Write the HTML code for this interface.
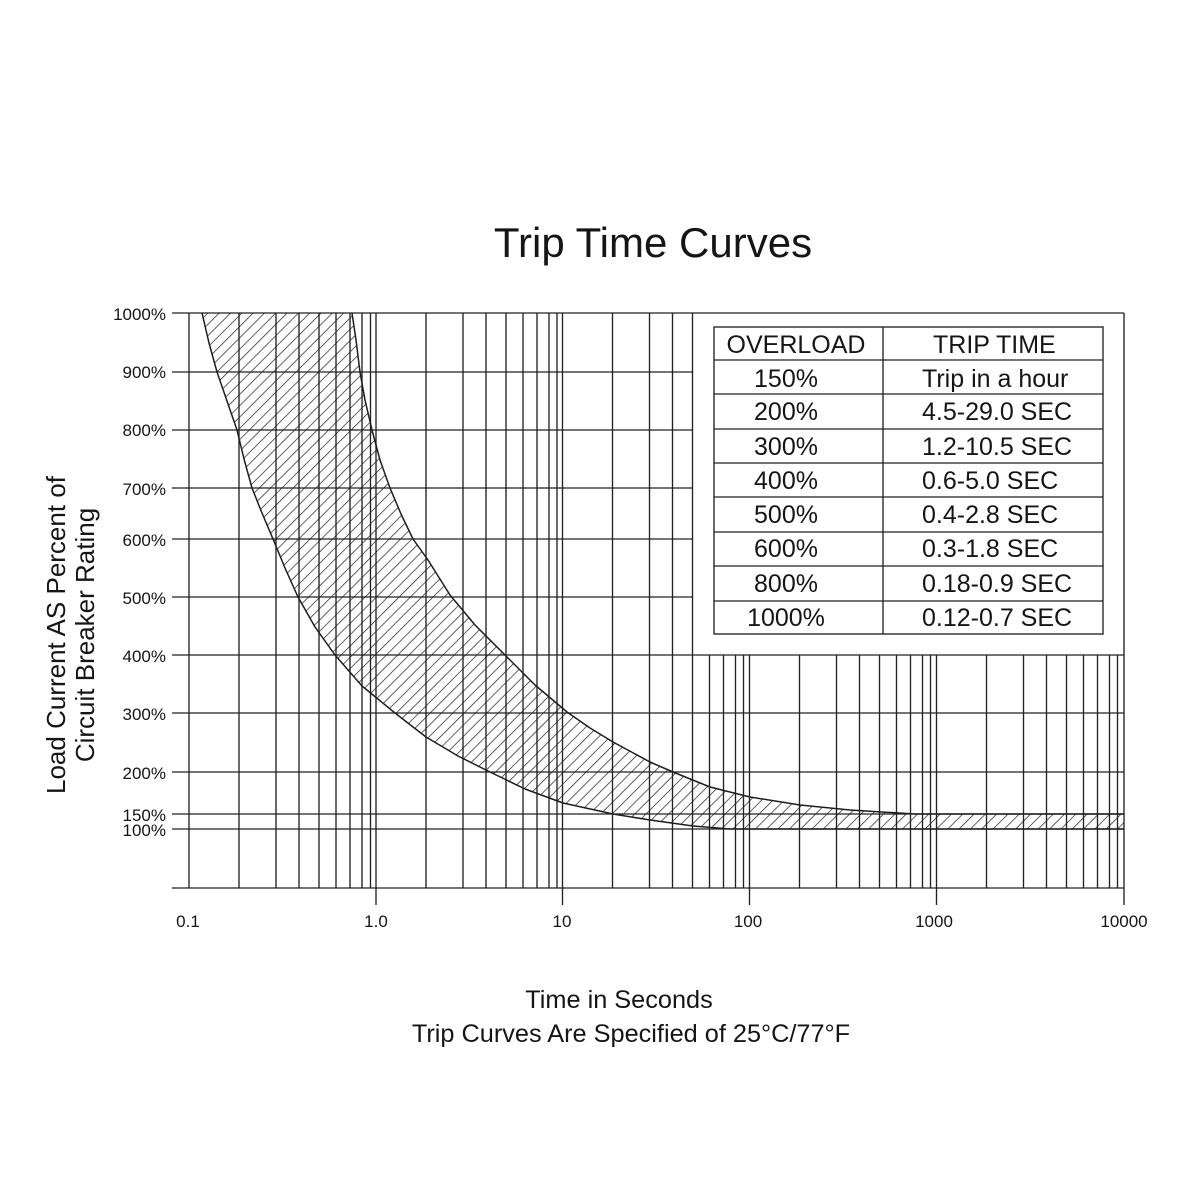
<!DOCTYPE html>
<html>
<head>
<meta charset="utf-8">
<style>
html,body{margin:0;padding:0;background:#fff;}
svg{display:block;}
text{font-family:"Liberation Sans",Arial,sans-serif;fill:#151515;}
</style>
</head>
<body>
<svg width="1200" height="1200" viewBox="0 0 1200 1200" xmlns="http://www.w3.org/2000/svg">
<defs>
  <pattern id="hatch" patternUnits="userSpaceOnUse" width="8" height="8" patternTransform="rotate(45)">
    <line x1="0" y1="0" x2="0" y2="8" stroke="#1e1e1e" stroke-width="1.4"/>
  </pattern>
  <clipPath id="band">
    <path d="M352,313 L356,340 360,372 365,400 372,430 380,460 390,488 401,514 413,539 428,560 450,595 475,625 505,655 535,685 567,712 590,728 613,742 650,762 673,772 710,787 750,797 800,805 850,810 915,814 1124,814 L1124,829 730,829 693,826 650,820 613,814 563,803 525,789 490,772 458,756 426,737 395,713 362,686 335,655 315,627 298,597 285,568 273,539 262,513 252,488 244,459 237,430 227,401 217,372 209,343 202,313 Z"/>
  </clipPath>
</defs>
<rect width="1200" height="1200" fill="#fff"/>

<!-- Title -->
<text x="653" y="257" font-size="42" text-anchor="middle">Trip Time Curves</text>

<!-- grid -->
<g stroke="#222" stroke-width="1.35" fill="none">
  <line x1="172" y1="313" x2="1124" y2="313"/>
  <line x1="172" y1="655" x2="1124" y2="655"/>
  <line x1="172" y1="713" x2="1124" y2="713"/>
  <line x1="172" y1="772" x2="1124" y2="772"/>
  <line x1="172" y1="814" x2="1124" y2="814"/>
  <line x1="172" y1="829" x2="1124" y2="829"/>
  <line x1="172" y1="888" x2="1124" y2="888"/>
  <line x1="172" y1="372" x2="692.5" y2="372"/>
  <line x1="172" y1="430" x2="692.5" y2="430"/>
  <line x1="172" y1="488" x2="692.5" y2="488"/>
  <line x1="172" y1="539" x2="692.5" y2="539"/>
  <line x1="172" y1="597" x2="692.5" y2="597"/>
  <line x1="189" y1="313" x2="189" y2="888"/>
  <line x1="239" y1="313" x2="239" y2="888"/>
  <line x1="276" y1="313" x2="276" y2="888"/>
  <line x1="299" y1="313" x2="299" y2="888"/>
  <line x1="319" y1="313" x2="319" y2="888"/>
  <line x1="336" y1="313" x2="336" y2="888"/>
  <line x1="350" y1="313" x2="350" y2="888"/>
  <line x1="362" y1="313" x2="362" y2="888"/>
  <line x1="370.5" y1="313" x2="370.5" y2="888"/>
  <line x1="376" y1="313" x2="376" y2="905"/>
  <line x1="426" y1="313" x2="426" y2="888"/>
  <line x1="463" y1="313" x2="463" y2="888"/>
  <line x1="486" y1="313" x2="486" y2="888"/>
  <line x1="506" y1="313" x2="506" y2="888"/>
  <line x1="523" y1="313" x2="523" y2="888"/>
  <line x1="537" y1="313" x2="537" y2="888"/>
  <line x1="549" y1="313" x2="549" y2="888"/>
  <line x1="557" y1="313" x2="557" y2="888"/>
  <line x1="562.5" y1="313" x2="562.5" y2="905"/>
  <line x1="612.5" y1="313" x2="612.5" y2="888"/>
  <line x1="649.5" y1="313" x2="649.5" y2="888"/>
  <line x1="672.5" y1="313" x2="672.5" y2="888"/>
  <line x1="692.5" y1="313" x2="692.5" y2="888"/>
  <line x1="1124" y1="313" x2="1124" y2="905"/>
  <line x1="709.5" y1="655" x2="709.5" y2="888"/>
  <line x1="723.5" y1="655" x2="723.5" y2="888"/>
  <line x1="735.5" y1="655" x2="735.5" y2="888"/>
  <line x1="743.5" y1="655" x2="743.5" y2="888"/>
  <line x1="749.5" y1="655" x2="749.5" y2="905"/>
  <line x1="799.5" y1="655" x2="799.5" y2="888"/>
  <line x1="836.5" y1="655" x2="836.5" y2="888"/>
  <line x1="859.5" y1="655" x2="859.5" y2="888"/>
  <line x1="879.5" y1="655" x2="879.5" y2="888"/>
  <line x1="896.5" y1="655" x2="896.5" y2="888"/>
  <line x1="910.5" y1="655" x2="910.5" y2="888"/>
  <line x1="922.5" y1="655" x2="922.5" y2="888"/>
  <line x1="930.5" y1="655" x2="930.5" y2="888"/>
  <line x1="936.5" y1="655" x2="936.5" y2="905"/>
  <line x1="986.5" y1="655" x2="986.5" y2="888"/>
  <line x1="1023.5" y1="655" x2="1023.5" y2="888"/>
  <line x1="1046.5" y1="655" x2="1046.5" y2="888"/>
  <line x1="1066.5" y1="655" x2="1066.5" y2="888"/>
  <line x1="1083.5" y1="655" x2="1083.5" y2="888"/>
  <line x1="1097.5" y1="655" x2="1097.5" y2="888"/>
  <line x1="1109.5" y1="655" x2="1109.5" y2="888"/>
  <line x1="1117.5" y1="655" x2="1117.5" y2="888"/>
</g>

<!-- hatched band -->
<rect x="150" y="300" width="1000" height="600" fill="url(#hatch)" clip-path="url(#band)"/>
<path d="M352,313 L356,340 360,372 365,400 372,430 380,460 390,488 401,514 413,539 428,560 450,595 475,625 505,655 535,685 567,712 590,728 613,742 650,762 673,772 710,787 750,797 800,805 850,810 915,814 1124,814" fill="none" stroke="#1e1e1e" stroke-width="1.5" stroke-linejoin="round"/>
<path d="M202,313 L209,343 217,372 227,401 237,430 244,459 252,488 262,513 273,539 285,568 298,597 315,627 335,655 362,686 395,713 426,737 458,756 490,772 525,789 563,803 613,814 650,820 693,826 730,829 1124,829" fill="none" stroke="#1e1e1e" stroke-width="1.5" stroke-linejoin="round"/>

<!-- table -->
<g stroke="#222" stroke-width="1.35" fill="none">
  <rect x="714" y="327" width="389" height="307"/>
  <line x1="883" y1="327" x2="883" y2="634"/>
  <line x1="714" y1="360" x2="1103" y2="360"/>
  <line x1="714" y1="394" x2="1103" y2="394"/>
  <line x1="714" y1="429" x2="1103" y2="429"/>
  <line x1="714" y1="463" x2="1103" y2="463"/>
  <line x1="714" y1="497" x2="1103" y2="497"/>
  <line x1="714" y1="532" x2="1103" y2="532"/>
  <line x1="714" y1="566" x2="1103" y2="566"/>
  <line x1="714" y1="601" x2="1103" y2="601"/>
</g>
<g font-size="25">
  <text x="796" y="353" text-anchor="middle">OVERLOAD</text>
  <text x="933" y="353">TRIP TIME</text>
  <g text-anchor="middle">
    <text x="786" y="387">150%</text>
    <text x="786" y="420">200%</text>
    <text x="786" y="455">300%</text>
    <text x="786" y="489">400%</text>
    <text x="786" y="523">500%</text>
    <text x="786" y="557">600%</text>
    <text x="786" y="592">800%</text>
    <text x="786" y="626">1000%</text>
  </g>
  <text x="922" y="387">Trip in a hour</text>
  <text x="922" y="420">4.5-29.0 SEC</text>
  <text x="922" y="455">1.2-10.5 SEC</text>
  <text x="922" y="489">0.6-5.0 SEC</text>
  <text x="922" y="523">0.4-2.8 SEC</text>
  <text x="922" y="557">0.3-1.8 SEC</text>
  <text x="922" y="592">0.18-0.9 SEC</text>
  <text x="922" y="626">0.12-0.7 SEC</text>
</g>

<!-- y labels -->
<g font-size="17" text-anchor="end">
  <text x="166" y="320">1000%</text>
  <text x="166" y="378">900%</text>
  <text x="166" y="436">800%</text>
  <text x="166" y="495">700%</text>
  <text x="166" y="546">600%</text>
  <text x="166" y="604">500%</text>
  <text x="166" y="662">400%</text>
  <text x="166" y="720">300%</text>
  <text x="166" y="779">200%</text>
  <text x="166" y="821">150%</text>
  <text x="166" y="836">100%</text>
</g>

<!-- x labels -->
<g font-size="17" text-anchor="middle">
  <text x="188" y="927">0.1</text>
  <text x="376" y="927">1.0</text>
  <text x="562" y="927">10</text>
  <text x="748" y="927">100</text>
  <text x="934" y="927">1000</text>
  <text x="1124" y="927">10000</text>
</g>

<!-- axis titles -->
<g font-size="25.3" text-anchor="middle">
  <text x="619" y="1008">Time in Seconds</text>
  <text x="631" y="1042">Trip Curves Are Specified of 25°C/77°F</text>
</g>
<g font-size="26" text-anchor="middle">
  <text transform="translate(65,635) rotate(-90)">Load Current AS Percent of</text>
  <text transform="translate(94,635) rotate(-90)">Circuit Breaker Rating</text>
</g>
</svg>
</body>
</html>
